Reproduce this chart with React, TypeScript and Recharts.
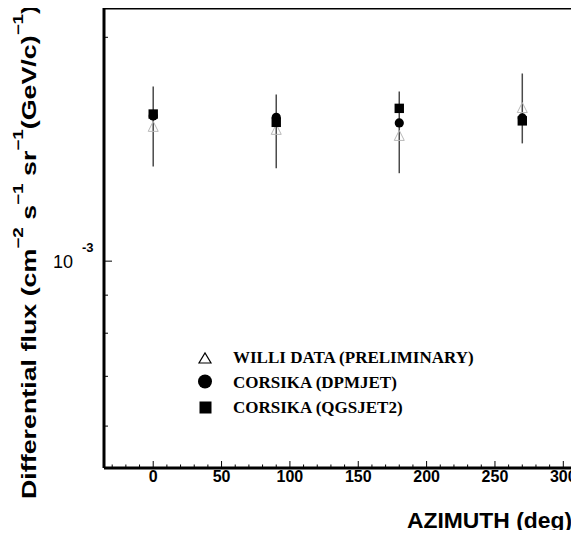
import React from 'react';
import { ScatterChart, Scatter, XAxis, YAxis, ErrorBar, Legend, ReferenceLine } from 'recharts';

// ---- data ----
const azimuthDeg = [0, 90, 180, 270];
const williFlux = [1.518e-3, 1.504e-3, 1.476e-3, 1.609e-3];
const williUpper = [1.718e-3, 1.676e-3, 1.691e-3, 1.788e-3];
const williLower = [1.341e-3, 1.333e-3, 1.313e-3, 1.44e-3];
const dpmjetFlux = [1.568e-3, 1.561e-3, 1.534e-3, 1.558e-3];
const qgsjetFlux = [1.577e-3, 1.537e-3, 1.605e-3, 1.544e-3];
const seriesNames = ['WILLI DATA (PRELIMINARY)', 'CORSIKA (DPMJET)', 'CORSIKA (QGSJET2)'];

const xTicks = [-30, -20, -10, 0, 10, 20, 30, 40, 50, 60, 70, 80, 90, 100, 110, 120, 130, 140, 150, 160, 170, 180, 190, 200, 210, 220, 230, 240, 250, 260, 270, 280, 290, 300, 310, 320, 330, 340, 350, 360, 370, 380, 390];
const xMajorTicks = [0, 50, 100, 150, 200, 250, 300];
const yTicks = [6e-4, 7e-4, 8e-4, 9e-4, 1e-3, 2e-3];
const yMajorTicks = [1e-3];
const xDomain = [-36, 400];
const yDomain = [5.27e-4, 2.19e-3];

const williData = azimuthDeg.map((a, i) => ({
  az: a,
  flux: williFlux[i],
  err: [williFlux[i] - williLower[i], williUpper[i] - williFlux[i]],
}));
const dpmjetData = azimuthDeg.map((a, i) => ({ az: a, flux: dpmjetFlux[i] }));
const qgsjetData = azimuthDeg.map((a, i) => ({ az: a, flux: qgsjetFlux[i] }));

const SANS = '"Liberation Sans", Arial, sans-serif';
const SERIF = '"Liberation Serif", "Times New Roman", serif';

const XTick = (props: any) => {
  const { x, y, payload } = props;
  const v = payload.value;
  const major = xMajorTicks.includes(v) || v % 50 === 0;
  const labelled = xMajorTicks.includes(v);
  return (
    <g>
      <line x1={x} x2={x} y1={y} y2={y - (major ? 7 : 3.5)} stroke="#000" strokeWidth={1} />
      {labelled && (
        <text x={x} y={y + 14} textAnchor="middle" fontFamily={SANS} fontWeight="bold" fontSize={16} fill="#000">
          {v}
        </text>
      )}
    </g>
  );
};

const YTick = (props: any) => {
  const { x, y, payload } = props;
  const v = payload.value;
  const major = yMajorTicks.some((m) => Math.abs(m - v) < 1e-9);
  const exp = Math.round(Math.log10(v));
  return (
    <g>
      <line x1={x} x2={x + (major ? 8 : 4)} y1={y} y2={y} stroke="#000" strokeWidth={1} />
      {major && (
        <g>
          <text x={x - 31} y={y + 7} textAnchor="end" fontFamily={SANS} fontSize={18} fill="#000">10</text>
          <text x={x - 22} y={y - 9} textAnchor="start" fontFamily={SANS} fontWeight="bold" fontSize={13} fill="#000">{`${exp}`}</text>
        </g>
      )}
    </g>
  );
};

const YLabel = () => (
  <text
    transform="translate(35.5,252) rotate(-90)"
    textAnchor="middle"
    fontFamily={SANS}
    fontWeight="bold"
    fontSize={20}
    fill="#000"
    textLength={494}
    lengthAdjust="spacingAndGlyphs"
  >
    Differential flux (cm
    <tspan dy={-13} fontSize={14}>−2</tspan>
    <tspan dy={13}> s</tspan>
    <tspan dy={-13} fontSize={14}>−1</tspan>
    <tspan dy={13}> sr</tspan>
    <tspan dy={-13} fontSize={14}>−1</tspan>
    <tspan dy={13}>(GeV/c)</tspan>
    <tspan dy={-13} fontSize={14}>−1</tspan>
    <tspan dy={13}>)</tspan>
  </text>
);

const XLabel = () => (
  <text
    x={407}
    y={528}
    textAnchor="start"
    fontFamily={SANS}
    fontWeight="bold"
    fontSize={22}
    fill="#000"
    textLength={165}
    lengthAdjust="spacingAndGlyphs"
  >
    AZIMUTH (deg)
  </text>
);

const TriangleShape = (props: any) => {
  const { cx, cy } = props;
  return (
    <polygon
      points={`${cx - 5},${cy + 5} ${cx + 5},${cy + 5} ${cx},${cy - 5}`}
      fill="none"
      stroke="#b8b8b8"
      strokeWidth={1}
    />
  );
};
const CircleShape = (props: any) => <circle cx={props.cx} cy={props.cy} r={4.6} fill="#000" />;
const SquareShape = (props: any) => (
  <rect x={props.cx - 4.7} y={props.cy - 4.7} width={9.4} height={9.4} fill="#000" />
);

const LegendContent = () => (
  <svg width={380} height={85} style={{ display: 'block' }}>
    <polygon points="9,23 21,23 15,13" fill="none" stroke="#000" strokeWidth={1.2} />
    <circle cx={15} cy={41.5} r={7} fill="#000" />
    <rect x={9.5} y={61.5} width={12} height={12} fill="#000" />
    {seriesNames.map((n, i) => (
      <text key={n} x={43} y={23 + i * 25} fontFamily={SERIF} fontWeight="bold" fontSize={17} fill="#000">
        {n}
      </text>
    ))}
  </svg>
);

export default function App() {
  return (
    <div style={{ margin: -8, width: 579, height: 538, overflow: 'hidden', position: 'relative', background: '#fff' }}>
      <ScatterChart width={700} height={538} margin={{ top: 8, right: 0, bottom: 0, left: 0 }}>
        <XAxis
          dataKey="az"
          type="number"
          domain={xDomain}
          ticks={xTicks}
          interval={0}
          allowDataOverflow
          height={70}
          tickSize={0}
          tickMargin={0}
          tick={<XTick />}
          tickLine={false}
          axisLine={{ stroke: '#000', strokeWidth: 3 }}
          label={<XLabel />}
        />
        <YAxis
          dataKey="flux"
          type="number"
          scale="log"
          domain={yDomain}
          ticks={yTicks}
          interval={0}
          allowDataOverflow
          width={104}
          tickSize={0}
          tickMargin={0}
          tick={<YTick />}
          tickLine={false}
          axisLine={{ stroke: '#000', strokeWidth: 3 }}
          label={<YLabel />}
        />
        <ReferenceLine y={yDomain[1]} stroke="#000" strokeWidth={3} ifOverflow="visible" />
        <Scatter name={seriesNames[0]} data={williData} shape={<TriangleShape />} isAnimationActive={false}>
          <ErrorBar dataKey="err" direction="y" width={0} stroke="#4a4a4a" strokeWidth={1.5} isAnimationActive={false} />
        </Scatter>
        <Scatter name={seriesNames[1]} data={dpmjetData} shape={<CircleShape />} isAnimationActive={false} />
        <Scatter name={seriesNames[2]} data={qgsjetData} shape={<SquareShape />} isAnimationActive={false} />
        <Legend
          layout="vertical"
          align="center"
          verticalAlign="middle"
          content={<LegendContent />}
          wrapperStyle={{ position: 'absolute', left: 190, top: 340, width: 380, height: 85 }}
        />
      </ScatterChart>
    </div>
  );
}
